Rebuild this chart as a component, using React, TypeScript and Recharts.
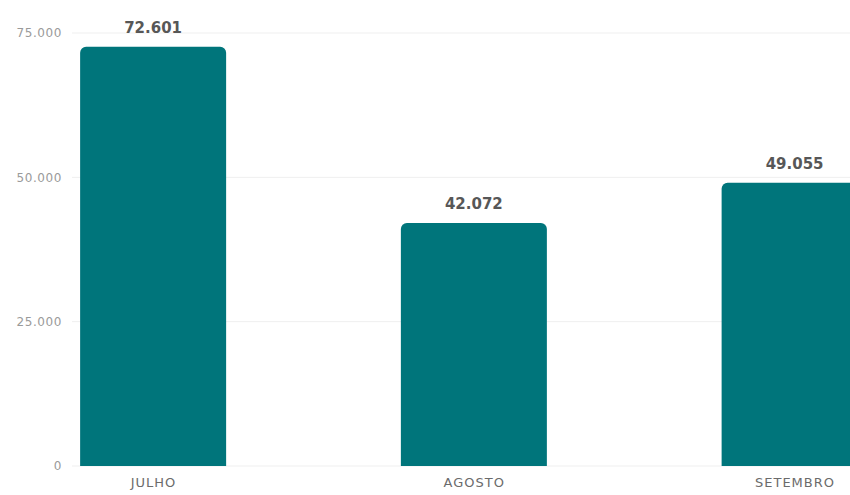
import { BarChart, Bar, XAxis, YAxis, CartesianGrid, LabelList } from "recharts"

const months = ["JULHO", "AGOSTO", "SETEMBRO"]
const values = [72601, 42072, 49055]
const yTicks = [0, 25000, 50000, 75000]

const data = months.map((month, i) => ({ pos: i, month, value: values[i] }))

// thousands separator like pt-BR ("72.601")
const fmt = (v: number) => String(v).replace(/\B(?=(\d{3})+(?!\d))/g, ".")

export default function App() {
  return (
    <div
      style={{
        position: "absolute",
        left: 0,
        top: 0,
        width: 850,
        height: 495,
        overflow: "hidden",
        background: "#fff",
      }}
    >
      <BarChart
        width={850}
        height={495}
        data={data}
        margin={{ top: 33, right: 0, bottom: 5, left: 0 }}
      >
        <CartesianGrid vertical={false} stroke="#efefef" />
        <XAxis
          dataKey="pos"
          type="number"
          domain={[-0.2541, 2.1715]}
          ticks={[0, 1, 2]}
          tickFormatter={(i: number) => months[i] ?? ""}
          height={24}
          axisLine={false}
          tickLine={false}
          tickMargin={6}
          tick={{ fill: "#6b6b6b", fontSize: 13, fontFamily: "DejaVu Sans", letterSpacing: 1 }}
        />
        <YAxis
          domain={[0, 75000]}
          ticks={yTicks}
          tickFormatter={fmt}
          width={72}
          axisLine={false}
          tickLine={false}
          tickSize={0}
          tickMargin={10}
          tick={{ fill: "#9a9a9a", fontSize: 12, fontFamily: "DejaVu Sans", letterSpacing: 0.6 }}
        />
        <Bar
          dataKey="value"
          fill="#00757b"
          barSize={146}
          radius={[6, 6, 0, 0]}
          isAnimationActive={false}
        >
          <LabelList
            dataKey="value"
            position="top"
            offset={14}
            formatter={(v: number) => fmt(v)}
            style={{ fill: "#575757", fontSize: 15, fontWeight: "bold", fontFamily: "DejaVu Sans" }}
          />
        </Bar>
      </BarChart>
    </div>
  )
}
